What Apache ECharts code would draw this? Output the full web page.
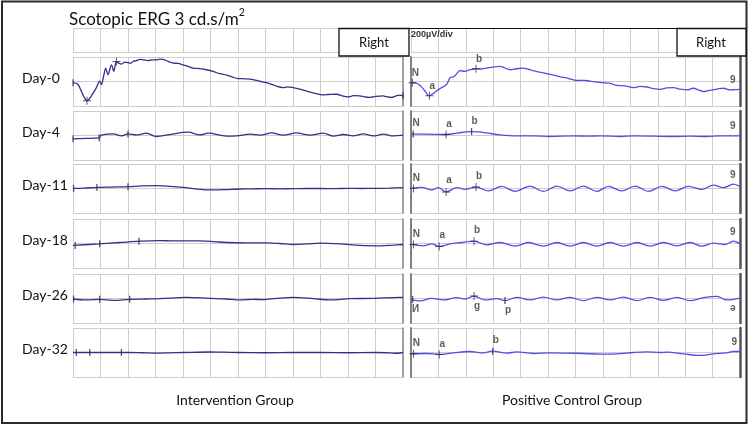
<!DOCTYPE html>
<html><head><meta charset="utf-8">
<script src="https://cdn.jsdelivr.net/npm/echarts@6/dist/echarts.min.js"></script>
<style>html,body{margin:0;padding:0;background:#fff}#c{width:749px;height:426px}</style>
</head><body><div id="c"></div>
<script>
// ---------- text ----------
const dayLabels = ['Day-0', 'Day-4', 'Day-11', 'Day-18', 'Day-26', 'Day-32'];
const groupLabels = ['Intervention Group', 'Positive Control Group'];
const titleMain = 'Scotopic ERG 3 cd.s/m';
const titleSup = '2';
const scaleLabel = '200µV/div';
const eyeLabel = 'Right';

// ---------- traces: [time (grid units 0..120), amplitude (µV, ±200 = panel edge)] ----------
const intDay0 = [[0,-10],[1.8,-24],[3,-78],[4,-125],[5.1,-157],[6,-140],[6.7,-117],[7.6,-85],[8.5,-50],[9.7,3],[10.3,-24],[11.2,50],[11.9,110],[12.7,56],[14,136],[14.8,83],[15.8,163],[16.6,150],[17.6,142],[18.8,158],[20,155],[21,148],[21.8,163],[23,170],[24.3,181],[25.8,176],[27.3,171],[28.8,176],[30.3,176],[31.5,182],[32.7,181],[34.5,165],[36.4,150],[38.2,148],[40,136],[41.8,124],[43.6,110],[46,105],[48.5,96],[51,82],[53.3,64],[56,52],[58,36],[60,24],[62.5,22],[65.5,16],[68,2],[70.3,-10],[73,-30],[76.4,-50],[78,-44],[80,-50],[82.5,-62],[84.9,-78],[88,-96],[90.9,-109],[93,-106],[95.8,-104],[98,-118],[100,-125],[102,-116],[104.3,-117],[106,-126],[107.9,-130],[110,-122],[112.7,-117],[114,-124],[115.8,-130],[117.5,-118],[118.8,-112],[120,-117]];
const intDay4 = [[0,-27],[4.9,-24],[9.5,-19],[10.3,3],[14.6,13],[17.6,-3],[20,13],[23,5],[26.7,19],[30.3,-8],[35.2,8],[41.9,27],[46.1,5],[49.2,19],[55.8,-5],[59.5,-3],[64.3,11],[68,3],[72.2,21],[76.5,3],[81.3,21],[86.2,3],[91,19],[94.7,-5],[98.3,8],[101.9,-3],[105.6,13],[109.2,-3],[112.9,11],[116.5,-3],[120,3]];
const intDay11 = [[0,1],[4,3],[8.7,9],[14,12],[20,15],[25,21],[30.3,23],[35,18],[40,9],[45,-5],[50.2,-12],[55,-10],[60.5,-4],[65,-3],[70.2,-1],[75,-3],[80,-1],[85,0],[90,0],[95,-1],[100,1],[105,0],[110.3,1],[115,3],[120,7]];
const intDay18 = [[0,-16],[9.7,-3],[17,8],[24.3,19],[31.6,24],[36.4,21],[46.1,21],[51,16],[55.8,8],[63.1,5],[70.4,5],[75.2,0],[80.1,-8],[85,-3],[89.8,3],[97.1,-3],[104.4,-16],[111.7,-19],[116.5,-13],[120,-8]];
const intDay26 = [[0,-4],[4.9,-12],[9.7,-7],[14.6,-15],[20.6,-7],[26.7,-4],[31.6,-1],[41.3,9],[49.8,1],[55.8,-4],[60.7,-12],[65.5,-7],[69.2,-9],[74,1],[80.1,9],[87.4,-1],[93.4,-12],[100.7,-1],[109.2,1],[118.9,9],[120,8]];
const intDay32 = [[0,0],[10,0],[20,0],[25,-2],[30,-5],[35,-3],[40,0],[50,4],[55,3],[60,0],[70,-2],[80,0],[90,0],[100,-2],[110,0],[115,-3],[118,-6],[120,0]];

const posDay0 = [[0,-10],[1.5,-12],[3.3,-32],[5.1,-78],[6.7,-117],[8.1,-98],[10.6,-58],[13,-24],[14.2,30],[15.4,38],[16.4,56],[17.9,88],[19.7,83],[21.5,96],[23.7,104],[25.5,102],[27.6,110],[30,118],[32.5,123],[34,114],[36.1,96],[38.5,104],[41,110],[42.8,100],[44.6,88],[47,76],[49.5,64],[52,52],[54.4,38],[57,28],[60.5,8],[63,10],[65.3,3],[67.8,-4],[70.2,-10],[72.5,-14],[75.1,-32],[78,-36],[81.2,-50],[83.5,-40],[86,-45],[88.5,-58],[90.9,-64],[93.3,-52],[95.7,-50],[98,-62],[100.6,-69],[103,-55],[105,-70],[106.7,-82],[108.5,-74],[110.4,-67],[112,-60],[114,-55],[116.4,-69],[118,-66],[120,-64]];
const posDay4 = [[0,13],[5.7,11],[12.8,8],[16.7,19],[21.5,32],[24.6,29],[27.6,21],[32.5,5],[38.6,-3],[44.6,-3],[50.7,-8],[59.2,-3],[64.1,-5],[69,-3],[76.3,-8],[81.1,-3],[88.4,-5],[95.7,-8],[101.8,-5],[107.9,-8],[112.8,-3],[120,-3]];
const posDay11 = [[0,1],[3.9,9],[7.5,-12],[10,7],[12.8,-28],[16.7,7],[19.7,-7],[23.7,12],[28.2,-20],[33.1,17],[38,-23],[43.4,20],[48.3,-23],[53.2,20],[58,-20],[62.9,20],[67.8,-23],[72,17],[76.9,-20],[81.8,20],[86.6,-23],[91.5,17],[96.4,-20],[101.2,17],[106.1,-7],[110.3,28],[114,7],[117.6,36],[120,15]];
const posDay18 = [[0,-8],[4.5,-19],[7.5,-3],[10.3,-24],[14.2,-3],[18.5,8],[23,19],[27.6,-11],[32.5,8],[38,-21],[42.8,8],[48.3,-21],[53.2,8],[58,-21],[62.9,8],[67.8,-21],[72.6,8],[77.5,-21],[82.4,8],[87.2,-21],[92.1,8],[97,-19],[101.8,8],[106.1,-21],[110.3,3],[114.6,-8],[117.6,19],[120,-3]];
const posDay26 = [[0,-7],[3.3,-20],[7.5,1],[11.8,-12],[16.7,7],[19.7,-4],[23,20],[27,-12],[31.3,-1],[34.3,-17],[38.6,9],[43.4,-12],[48.3,12],[53.2,-12],[58,9],[62.9,-17],[67.8,9],[72.6,-12],[77.5,12],[82.4,-17],[87.2,9],[92.1,-15],[97,9],[101.8,-17],[106.7,7],[111.6,17],[115.2,-12],[120,4]];
const posDay32 = [[0,-11],[5.7,-8],[10.3,-16],[15.5,-3],[21.5,8],[25.8,-3],[29.8,11],[34.9,-5],[38.6,5],[44.6,-8],[50.7,-3],[56.8,-5],[62.9,-8],[69,-13],[75.1,-11],[81.1,0],[86,5],[90.9,0],[93.3,3],[99.4,-11],[105.5,-24],[110.3,-11],[115.2,-3],[117.6,8],[120,8]];

// ---------- cursor marks ----------
const intCross = [[[5.1,-157],[15.8,163]], [], [], [], [], []];
const intTicks = [[[0,-10],[120,-117]], [[0,-27],[9.5,-19],[20,13]], [[0.2,1],[8.7,9],[20,15]], [[0.8,-16],[9.7,-3],[24,19]], [[0.2,-4],[9.7,-7],[20.6,-7]], [[1.2,0],[6.1,0],[17.6,0]]];
const posCross = [[[0.5,-10],[6.7,-117],[23.7,104]], [[12.8,8]], [[0.9,1],[12.8,-28],[23.7,12]], [[0.9,-8],[10.3,-24],[23,19]], [[23,20]], [[0.9,-11],[10.3,-16]]];
const posTicks = [[], [[0.8,13],[22.1,32]], [], [], [[0.6,-7],[34.3,-17]], [[29.8,11]]];
const posLabelsAbove = [
  [[0.5,-10,'N'],[6.7,-117,'a'],[23.7,104,'b'],[116.3,-66,'9']],
  [[0.8,20,'N'],[12.8,16,'a'],[22.1,40,'b'],[116.3,2,'9']],
  [[0.9,9,'N'],[12.8,-10,'a'],[23.7,20,'b'],[116.3,30,'9']],
  [[0.9,0,'N'],[10.3,-8,'a'],[23,27,'b'],[116.3,12,'9']],
  [],
  [[0.9,-5,'N'],[10.3,-10,'a'],[29.8,26,'b'],[116.8,10,'9']]
];
const posLabelsBelow = [[], [], [], [], [[0.6,-7,'И'],[23,12,'g'],[34.3,-17,'p'],[116.3,-2,'ə']], []];

const intervention = [intDay0, intDay4, intDay11, intDay18, intDay26, intDay32];
const positiveControl = [posDay0, posDay4, posDay11, posDay18, posDay26, posDay32];

// ---------- layout ----------
const colLeft = [73, 411], colWidth = [330, 329];
const rowTop = [57, 111, 164, 219, 274, 328], rowH = 49;
const headerTop = 28, headerH = 24;
const FONT = 'Lato';

const grids = [], xAxes = [], yAxes = [], series = [];
const hidden = {axisLine:{show:false}, axisTick:{show:false}, axisLabel:{show:false}};
function addGrid(left, top, width, height, ymin, ymax, yint, edges) {
  const g = grids.length;
  grids.push({left, top, width, height, containLabel:false});
  xAxes.push(Object.assign({gridIndex:g, type:'value', min:0, max:120, interval:10,
    splitLine:{show:true, lineStyle:{color:'#cdcdcd', width:1}}}, hidden));
  yAxes.push(Object.assign({gridIndex:g, type:'value', min:ymin, max:ymax, interval:yint,
    splitLine:{show:true, lineStyle:{color:'#cdcdcd', width:1}}}, hidden));
  const yi = yAxes.length - 1;
  (edges || []).forEach(e => {
    yAxes.push({gridIndex:g, type:'value', min:ymin, max:ymax, position:e.pos,
      axisLine:{show:true, onZero:false, lineStyle:{color:e.color, width:e.width}},
      axisTick:{show:false}, axisLabel:{show:false}, splitLine:{show:false}});
  });
  return {xi:g, yi};
}

const labelStyle = {color:'#3a3328', fontSize:10, fontWeight:'bold', fontFamily:'Liberation Sans'};
const crossSym = 'path://M0,4.4H10V5.6H0Z M4.4,0H5.6V10H4.4Z';

// header strips
addGrid(colLeft[0], headerTop, colWidth[0], headerH, 0, 1, 1, []);
addGrid(colLeft[1], headerTop, colWidth[1], headerH, 0, 1, 1, []);

for (let c = 0; c < 2; c++) {
  for (let r = 0; r < 6; r++) {
    const edges = c === 0
      ? [{pos:'right', color:'#8a8a8a', width:1.5}]
      : [{pos:'left', color:'#777', width:1.8}, {pos:'right', color:'#555', width:2.5}];
    const a = addGrid(colLeft[c], rowTop[r], colWidth[c], rowH, -200, 200, 200, edges);
    const data = c === 0 ? intervention[r] : positiveControl[r];
    const color = c === 0 ? '#31318e' : '#4f4fe6';
    series.push({type:'line', xAxisIndex:a.xi, yAxisIndex:a.yi, data, showSymbol:false,
      smooth:0.35, lineStyle:{color, width:1.3}, silent:true, z:3});
    const cross = c === 0 ? intCross[r] : posCross[r];
    const ticks = c === 0 ? intTicks[r] : posTicks[r];
    if (cross.length) series.push({type:'scatter', xAxisIndex:a.xi, yAxisIndex:a.yi, data:cross,
      symbol:crossSym, symbolSize:8, itemStyle:{color:'#2a2a55'}, silent:true, z:4});
    if (ticks.length) series.push({type:'scatter', xAxisIndex:a.xi, yAxisIndex:a.yi, data:ticks,
      symbol:'rect', symbolSize:[1.3,7], itemStyle:{color:'#2a2a44'}, silent:true, z:4});
    if (c === 1) {
      if (posLabelsAbove[r].length) series.push({type:'scatter', xAxisIndex:a.xi, yAxisIndex:a.yi,
        data:posLabelsAbove[r], symbolSize:1, itemStyle:{color:'rgba(0,0,0,0)'}, silent:true, z:5,
        label:Object.assign({show:true, position:'top', distance:4, offset:[3,0], formatter:p => p.value[2]}, labelStyle)});
      if (posLabelsBelow[r].length) series.push({type:'scatter', xAxisIndex:a.xi, yAxisIndex:a.yi,
        data:posLabelsBelow[r], symbolSize:1, itemStyle:{color:'rgba(0,0,0,0)'}, silent:true, z:5,
        label:Object.assign({show:true, position:'bottom', distance:4, offset:[3,0], formatter:p => p.value[2]}, labelStyle)});
    }
  }
}

const graphic = [
  {type:'rect', shape:{x:2, y:1.5, width:744.5, height:421.5}, style:{fill:'none', stroke:'#2b2b2b', lineWidth:2}, z:10},
  {type:'line', shape:{x1:409, y1:28.5, x2:746, y2:28.5}, style:{stroke:'#111', lineWidth:1.2}, z:10},
  {type:'text', x:69, y:7, style:{text:'{m|' + titleMain + '}{s|' + titleSup + '}', rich:{
    m:{fontFamily:FONT, fontSize:17, fill:'#111', verticalAlign:'bottom', lineHeight:21},
    s:{fontFamily:FONT, fontSize:10.5, fill:'#111', verticalAlign:'top', padding:[0,0,10,0]}}}, z:10},
  {type:'rect', shape:{x:339, y:28.5, width:70, height:27.5}, style:{fill:'#fff', stroke:'#111', lineWidth:1.3}, z:10},
  {type:'text', x:374, y:42.5, style:{text:eyeLabel, fontFamily:FONT, fontSize:13, fill:'#111', textAlign:'center', textVerticalAlign:'middle'}, z:11},
  {type:'rect', shape:{x:677, y:28.5, width:69, height:27.5}, style:{fill:'#fff', stroke:'#111', lineWidth:1.3}, z:10},
  {type:'text', x:711, y:42.5, style:{text:eyeLabel, fontFamily:FONT, fontSize:13, fill:'#111', textAlign:'center', textVerticalAlign:'middle'}, z:11},
  {type:'text', x:411, y:30, style:{text:scaleLabel, fontFamily:'Liberation Sans', fontSize:9, fontWeight:'bold', fill:'#333'}, z:11},
  {type:'text', x:235, y:400, style:{text:groupLabels[0], fontFamily:FONT, fontSize:14, fill:'#111', textAlign:'center', textVerticalAlign:'middle'}, z:11},
  {type:'text', x:572, y:400, style:{text:groupLabels[1], fontFamily:FONT, fontSize:14, fill:'#111', textAlign:'center', textVerticalAlign:'middle'}, z:11}
];
dayLabels.forEach((d, r) => {
  graphic.push({type:'text', x:22, y:rowTop[r] + rowH / 2 - 3, style:{text:d, fontFamily:FONT, fontSize:14, fill:'#111', textVerticalAlign:'middle'}, z:11});
});

const chart = echarts.init(document.getElementById('c'), null, {renderer:'canvas'});
chart.setOption({animation:false, backgroundColor:'#fff', grid:grids, xAxis:xAxes, yAxis:yAxes, series, graphic});
</script></body></html>
